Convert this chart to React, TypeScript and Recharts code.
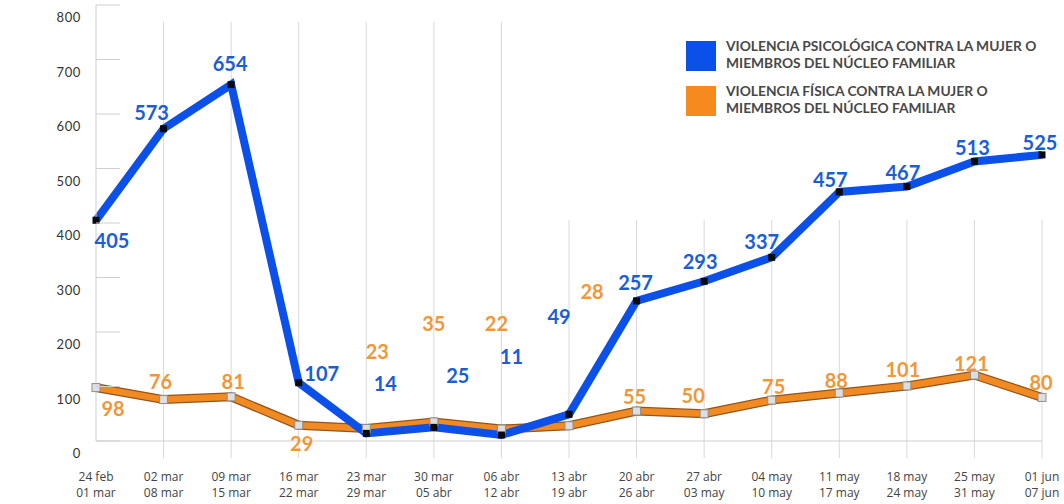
import { CartesianGrid, LabelList, Legend, Line, LineChart, XAxis, YAxis } from 'recharts'

// semanas (inicio / fin)
const weekStart = ['24 feb', '02 mar', '09 mar', '16 mar', '23 mar', '30 mar', '06 abr', '13 abr', '20 abr', '27 abr', '04 may', '11 may', '18 may', '25 may', '01 jun']
const weekEnd = ['01 mar', '08 mar', '15 mar', '22 mar', '29 mar', '05 abr', '12 abr', '19 abr', '26 abr', '03 may', '10 may', '17 may', '24 may', '31 may', '07 jun']

const psicologica = [405, 573, 654, 107, 14, 25, 11, 49, 257, 293, 337, 457, 467, 513, 525]
const fisica = [98, 76, 81, 29, 23, 35, 22, 28, 55, 50, 75, 88, 101, 121, 80]

const yTicks = [0, 100, 200, 300, 400, 500, 600, 700, 800]

// desplazamiento de las etiquetas respecto al punto
const psicoDx = [16, -12, -1, 23, 19, 24, 10, -10, -1, -4, -10, -9, -4, -2, -2]
const psicoDy = [20, -17, -22, -10, -50, -52, -79, -98, -19, -20, -16, -13, -14, -14, -13]
const fisicaDx = [17, -3, 2, 3, 11, 0, -5, 23, -2, -11, 2, -3, -4, -3, -1]
const fisicaDy = [20, -19, -16, 18, -77, -99, -106, -135, -15, -19, -14, -13, -17, -12, -15]

const legendItems = [
  { lines: ['VIOLENCIA PSICOLÓGICA CONTRA LA MUJER O', 'MIEMBROS DEL NÚCLEO FAMILIAR'], color: '#0c50ea' },
  { lines: ['VIOLENCIA FÍSICA CONTRA LA MUJER O', 'MIEMBROS DEL NÚCLEO FAMILIAR'], color: '#f78a1e' },
]

const data = weekStart.map((w, i) => ({ week: w, psico: psicologica[i], fisica: fisica[i] }))

const BLUE = '#0c50ea'
const BLUE_TEXT = '#1a5ed6'
const ORANGE = '#f28a22'
const ORANGE_TEXT = '#f0973a'

function makeLabel(color: string, dx: number[], dy: number[]) {
  return (p: any) => (
    <text x={p.x + dx[p.index]} y={p.y + dy[p.index]} textAnchor="middle" dominantBaseline="central"
      fill={color} fontFamily="Lato" fontWeight={700} fontSize={20}>{p.value}</text>
  )
}

const YTick = (p: any) => (
  <g>
    <line x1={p.x} x2={p.x + 24} y1={p.y} y2={p.y} stroke="#cfcfcf" />
    <text x={p.x - 15} y={p.y + 12} textAnchor="end" dominantBaseline="central" fill="#333"
      fontFamily="Lato" fontSize={13} letterSpacing={0.6}>{p.payload.value}</text>
  </g>
)

const XTick = (p: any) => (
  <text x={p.x} y={p.y} textAnchor="middle" fill="#444" fontFamily="Open Sans" fontSize={12}>
    <tspan x={p.x} dy={40}>{weekStart[p.index]}</tspan>
    <tspan x={p.x} dy={16}>{weekEnd[p.index]}</tspan>
  </text>
)

const gridLine = (p: any) => {
  if (p.index === 0) return <g key={p.key ?? 'g0'} />
  const top = p.index < 7 ? 22 : 220
  return <line key={p.key ?? p.index} x1={p.x1} x2={p.x2} y1={top} y2={458} stroke="#d9d9d9" />
}

const LegendBox = () => (
  <div>
    {legendItems.map((it, i) => (
      <div key={i} style={{ position: 'relative', height: 45 }}>
        <div style={{ position: 'absolute', left: 0, top: 4, width: 30, height: 30, background: it.color }} />
        <div style={{ position: 'absolute', left: 40, top: 0, fontFamily: 'Lato', fontWeight: 700, fontSize: 13.8, lineHeight: '17px', color: '#484848', whiteSpace: 'nowrap' }}>
          {it.lines.map((l, j) => <div key={j}>{l}</div>)}
        </div>
      </div>
    ))}
  </div>
)

export default function App() {
  return (
    <div style={{ position: 'absolute', left: 0, top: 0, background: '#fff' }}>
      <LineChart width={1064} height={504} data={data} margin={{ top: 5, right: 22, bottom: 33, left: 16 }}>
        <CartesianGrid horizontal={false} vertical={gridLine} />
        <XAxis dataKey="week" height={30} interval={0} tickLine={false} tickSize={0} tickMargin={0} axisLine={{ stroke: '#cfcfcf' }} tick={XTick} />
        <YAxis width={80} domain={[0, 800]} ticks={yTicks} interval={0} tickLine={false} tickSize={0} tickMargin={0} axisLine={{ stroke: '#cfcfcf' }} tick={YTick} />
        <Legend layout="vertical" align="center" verticalAlign="middle" content={LegendBox}
          wrapperStyle={{ position: 'absolute', left: 686, top: 37, width: 378, height: 90 }} />
        <Line dataKey="fisica" stroke="#93541c" strokeWidth={9} dot={false} activeDot={false} isAnimationActive={false} legendType="none" />
        <Line dataKey="fisica" stroke={ORANGE} strokeWidth={6.5} isAnimationActive={false} activeDot={false}
          dot={(p: any) => <rect key={p.index} x={p.cx - 4} y={p.cy - 4} width={8} height={8} fill="#dedede" stroke="#8d8d8d" strokeWidth={1} />}>
          <LabelList dataKey="fisica" content={makeLabel(ORANGE_TEXT, fisicaDx, fisicaDy)} />
        </Line>
        <Line dataKey="psico" stroke={BLUE} strokeWidth={8} isAnimationActive={false} activeDot={false}
          dot={(p: any) => <rect key={p.index} x={p.cx - 3.5} y={p.cy - 3.5} width={7} height={7} fill="#0a0a0a" />}>
          <LabelList dataKey="psico" content={makeLabel(BLUE_TEXT, psicoDx, psicoDy)} />
        </Line>
      </LineChart>
    </div>
  )
}
